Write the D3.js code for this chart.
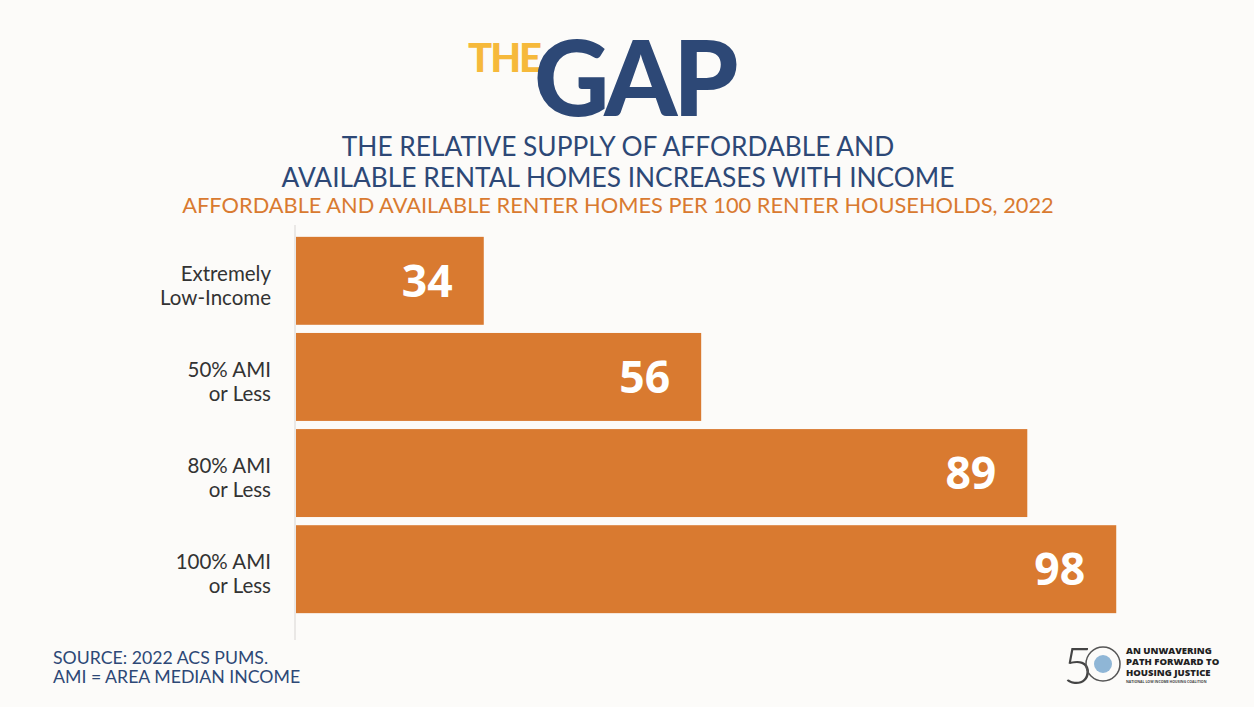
<!DOCTYPE html>
<html>
<head>
<meta charset="utf-8">
<script src="https://cdn.jsdelivr.net/npm/d3@7"></script>
<style>
  body { margin: 0; background: #fcfbf9; }
  svg { display: block; }
</style>
</head>
<body>
<svg width="1254" height="707"></svg>
<script>
var categories = [["Extremely", "Low-Income"], ["50% AMI", "or Less"], ["80% AMI", "or Less"], ["100% AMI", "or Less"]]
var values = [34, 56, 89, 98]
var titleLines = ["THE RELATIVE SUPPLY OF AFFORDABLE AND", "AVAILABLE RENTAL HOMES INCREASES WITH INCOME"]
var subtitle = "AFFORDABLE AND AVAILABLE RENTER HOMES PER 100 RENTER HOUSEHOLDS, 2022"
var sourceLines = ["SOURCE: 2022 ACS PUMS.", "AMI = AREA MEDIAN INCOME"]

var blue = "#2d4876", orange = "#d97a30", yellow = "#f6b93b"
var svg = d3.select("svg")

svg.append("rect").attr("width", 1254).attr("height", 707).attr("fill", "#fcfbf9")

// header
svg.append("text").attr("x", 468).attr("y", 72)
    .attr("font-family", "Lato, 'Open Sans', sans-serif").attr("font-weight", 900)
    .attr("font-size", 40).attr("letter-spacing", -2).attr("fill", yellow).text("THE")
svg.append("text").attr("x", 534).attr("y", 116)
    .attr("font-family", "Lato, 'Open Sans', sans-serif").attr("font-weight", 900)
    .attr("font-size", 104).attr("letter-spacing", -4).attr("fill", blue).text("GAP")

svg.selectAll(".title").data(titleLines).enter().append("text")
    .attr("x", 618).attr("y", function(d, i) { return 156 + i * 31 })
    .attr("text-anchor", "middle").attr("font-family", "Lato, sans-serif")
    .attr("font-weight", 400).attr("font-size", 26.3).attr("fill", blue)
    .text(function(d) { return d })

svg.append("text").attr("x", 618).attr("y", 213).attr("text-anchor", "middle")
    .attr("font-family", "Lato, sans-serif").attr("font-size", 21.8)
    .attr("fill", orange).text(subtitle)

// chart
var x = d3.scaleLinear().domain([15, 100]).range([296, 1136])
var y = d3.scaleBand().domain(d3.range(values.length)).range([233, 617]).paddingInner(0.085).paddingOuter(0.04)

svg.append("line").attr("x1", 295).attr("x2", 295).attr("y1", 225).attr("y2", 640)
    .attr("stroke", "#e4e2df").attr("stroke-width", 1.5)

var bars = svg.selectAll(".bar").data(values).enter().append("g")

bars.append("rect")
    .attr("x", x(15))
    .attr("y", function(d, i) { return y(i) })
    .attr("width", function(d) { return x(d) - x(15) })
    .attr("height", y.bandwidth())
    .attr("fill", orange)

bars.append("text")
    .attr("x", function(d) { return x(d) - 31 })
    .attr("y", function(d, i) { return y(i) + y.bandwidth() / 2 + 16 })
    .attr("text-anchor", "end").attr("font-family", "'Open Sans', sans-serif")
    .attr("font-weight", 700).attr("font-size", 44.5).attr("fill", "#fff")
    .text(function(d) { return d })

svg.selectAll(".cat").data(categories).enter().append("text")
    .attr("text-anchor", "end").attr("font-family", "Lato, sans-serif")
    .attr("font-size", 20.5).attr("fill", "#333")
    .each(function(d, i) {
        var t = d3.select(this)
        var cy = y(i) + y.bandwidth() / 2
        t.selectAll("tspan").data(d).enter().append("tspan")
            .attr("x", 271).attr("y", function(s, j) { return cy + j * 24 })
            .text(function(s) { return s })
    })

// footer
svg.selectAll(".src").data(sourceLines).enter().append("text")
    .attr("x", 53).attr("y", function(d, i) { return 664 + i * 19 })
    .attr("font-family", "Lato, sans-serif").attr("font-size", 17.7)
    .attr("fill", blue).text(function(d) { return d })

// logo
var logo = svg.append("g").attr("transform", "translate(1063,640)")
logo.append("text").attr("x", 0).attr("y", 44).attr("font-family", "Lato, sans-serif")
    .attr("font-weight", 300).attr("font-size", 52).attr("fill", "#444").text("5")
logo.append("circle").attr("cx", 40).attr("cy", 24).attr("r", 17)
    .attr("fill", "none").attr("stroke", "#555").attr("stroke-width", 1.5)
logo.append("circle").attr("cx", 40).attr("cy", 24).attr("r", 9).attr("fill", "#8fb6d6")
var lt = ["AN UNWAVERING", "PATH FORWARD TO", "HOUSING JUSTICE"]
logo.selectAll(".lt").data(lt).enter().append("text")
    .attr("x", 63).attr("y", function(d, i) { return 14 + i * 11 })
    .attr("font-family", "'Open Sans', sans-serif").attr("font-weight", 800)
    .attr("font-size", 9.5).attr("fill", "#222").text(function(d) { return d })
logo.append("text").attr("x", 63).attr("y", 43).attr("font-family", "'Open Sans', sans-serif")
    .attr("font-size", 3.5).attr("font-weight", 700).attr("fill", "#444")
    .text("NATIONAL LOW INCOME HOUSING COALITION")
</script>
</body>
</html>
